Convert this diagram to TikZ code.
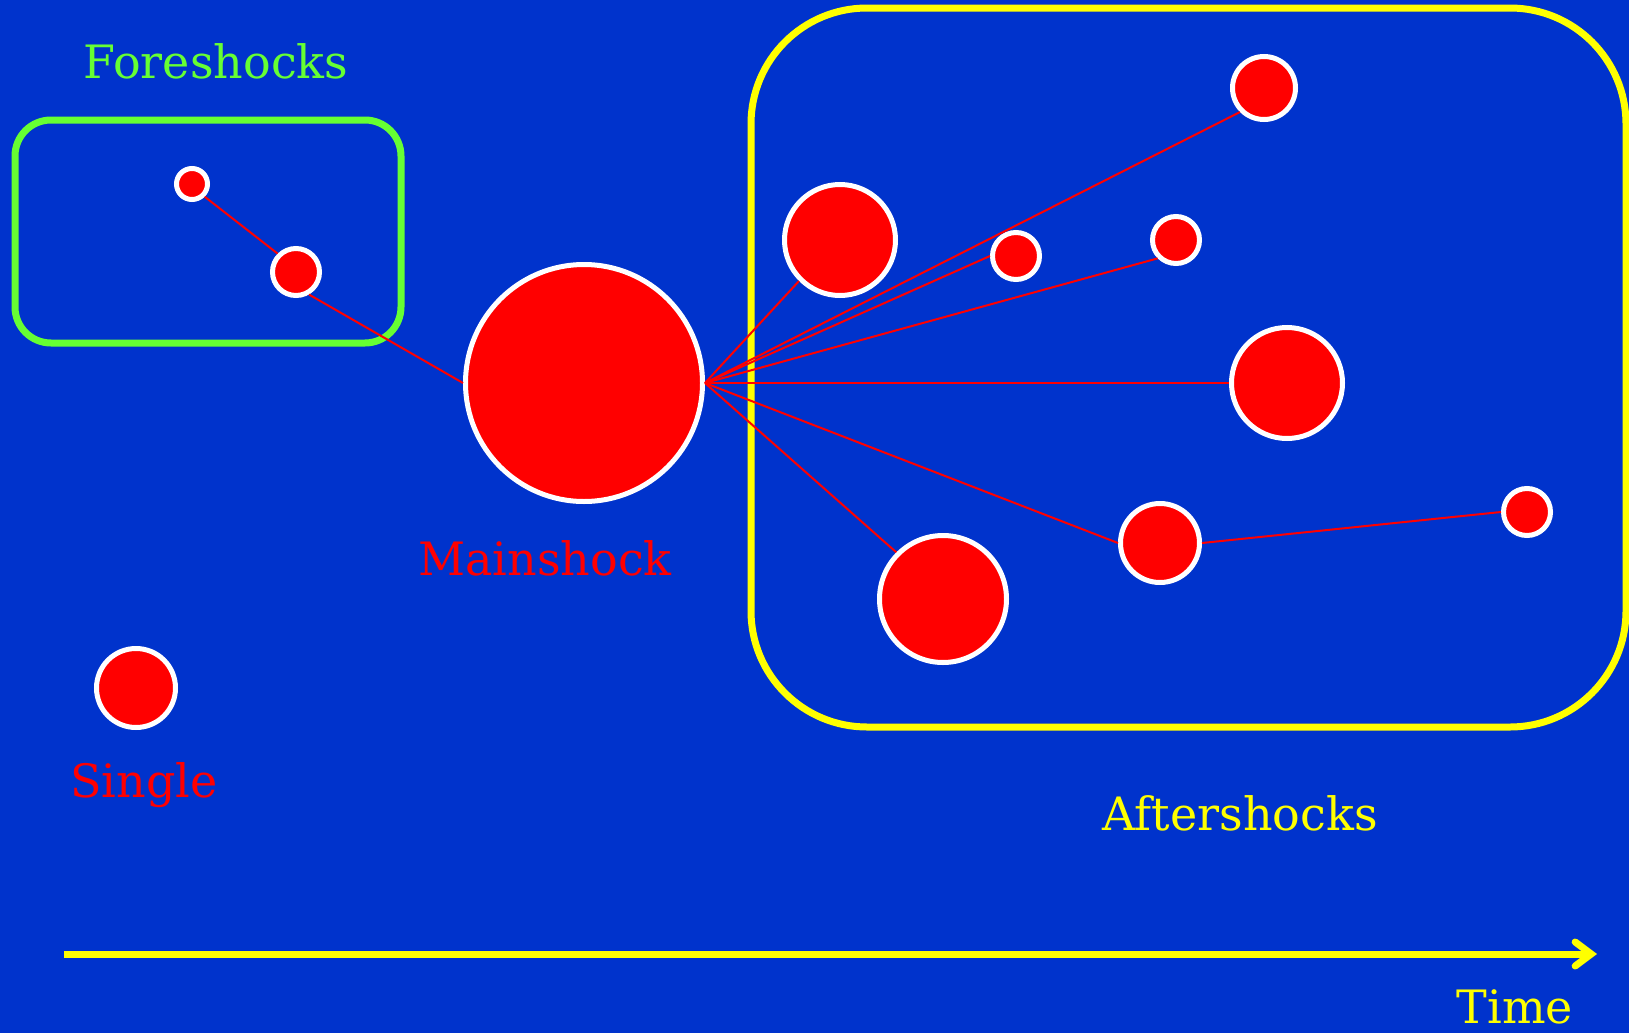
\documentclass[tikz,border=0pt]{standalone}
\usepackage{fontspec}
\setmainfont{DejaVu Serif}
\usetikzlibrary{arrows.meta}
\definecolor{bgblue}{RGB}{0,51,204}
\definecolor{fgreen}{RGB}{102,255,51}
\definecolor{ayellow}{RGB}{255,255,0}
\definecolor{qred}{RGB}{255,0,0}
\tikzset{
  quake/.style={circle, fill=qred, draw=white, line width=2.5pt, inner sep=0pt, minimum size=#1*1pt-2.5pt},
  link/.style={draw=qred, line width=1pt},
  lbl/.style={font=\fontsize{23}{27}\selectfont, inner sep=0pt, anchor=base},
}
\begin{document}
\begin{tikzpicture}[x=0.5pt,y=-0.5pt]
\fill[bgblue] (0,0) rectangle (1629,1033);
\useasboundingbox (0,0) rectangle (1629,1033);
% boxes
\draw[fgreen, line width=3.5pt, rounded corners=18pt] (15,120) rectangle (401,343);
\draw[ayellow, line width=3.5pt, rounded corners=58pt] (751,8) rectangle (1626,727);
% labels
\node[lbl, text=fgreen] (tfore) at (216,78) {Foreshocks};
\node[lbl, text=qred] (tmain) at (545,575) {Mainshock};
\node[lbl, text=qred] (tsingle) at (144,797) {Single};
\node[lbl, text=ayellow] (tafter) at (1240,830) {Aftershocks};
\node[lbl, text=ayellow] (ttime) at (1515,1023) {Time};
% time axis
\coordinate (t0) at (64,954);
\coordinate (t1) at (1597,954);
\draw[ayellow, line width=3.5pt, -{Straight Barb[length=8pt,width=12pt,line cap=round]}] (t0) -- (t1);
% quakes (argument = outer radius in px)
\node[quake=18] (f1) at (192,184) {};
\node[quake=26] (f2) at (296,272) {};
\node[quake=121] (m) at (584,383) {};
\node[quake=42] (s) at (136,688) {};
\node[quake=58] (a1) at (840,240) {};
\node[quake=26] (a2) at (1016,256) {};
\node[quake=34] (a3) at (1264,88) {};
\node[quake=26] (a4) at (1176,240) {};
\node[quake=58] (a5) at (1287,383) {};
\node[quake=42] (a6) at (1160,543) {};
\node[quake=26] (a7) at (1527,512) {};
\node[quake=66] (a8) at (943,599) {};
% links
\draw[link] (f1.-45) -- (f2.135);
\draw[link] (f2.-60) -- (m.west);
\draw[link] (m.east) -- (a1.225);
\draw[link] (m.east) -- (a2.west);
\draw[link] (m.east) -- (a3.225);
\draw[link] (m.east) -- (a4.225);
\draw[link] (m.east) -- (a5.west);
\draw[link] (m.east) -- (a6.west);
\draw[link] (m.east) -- (a8.135);
\draw[link] (a6.east) -- (a7.west);
\end{tikzpicture}
\end{document}
